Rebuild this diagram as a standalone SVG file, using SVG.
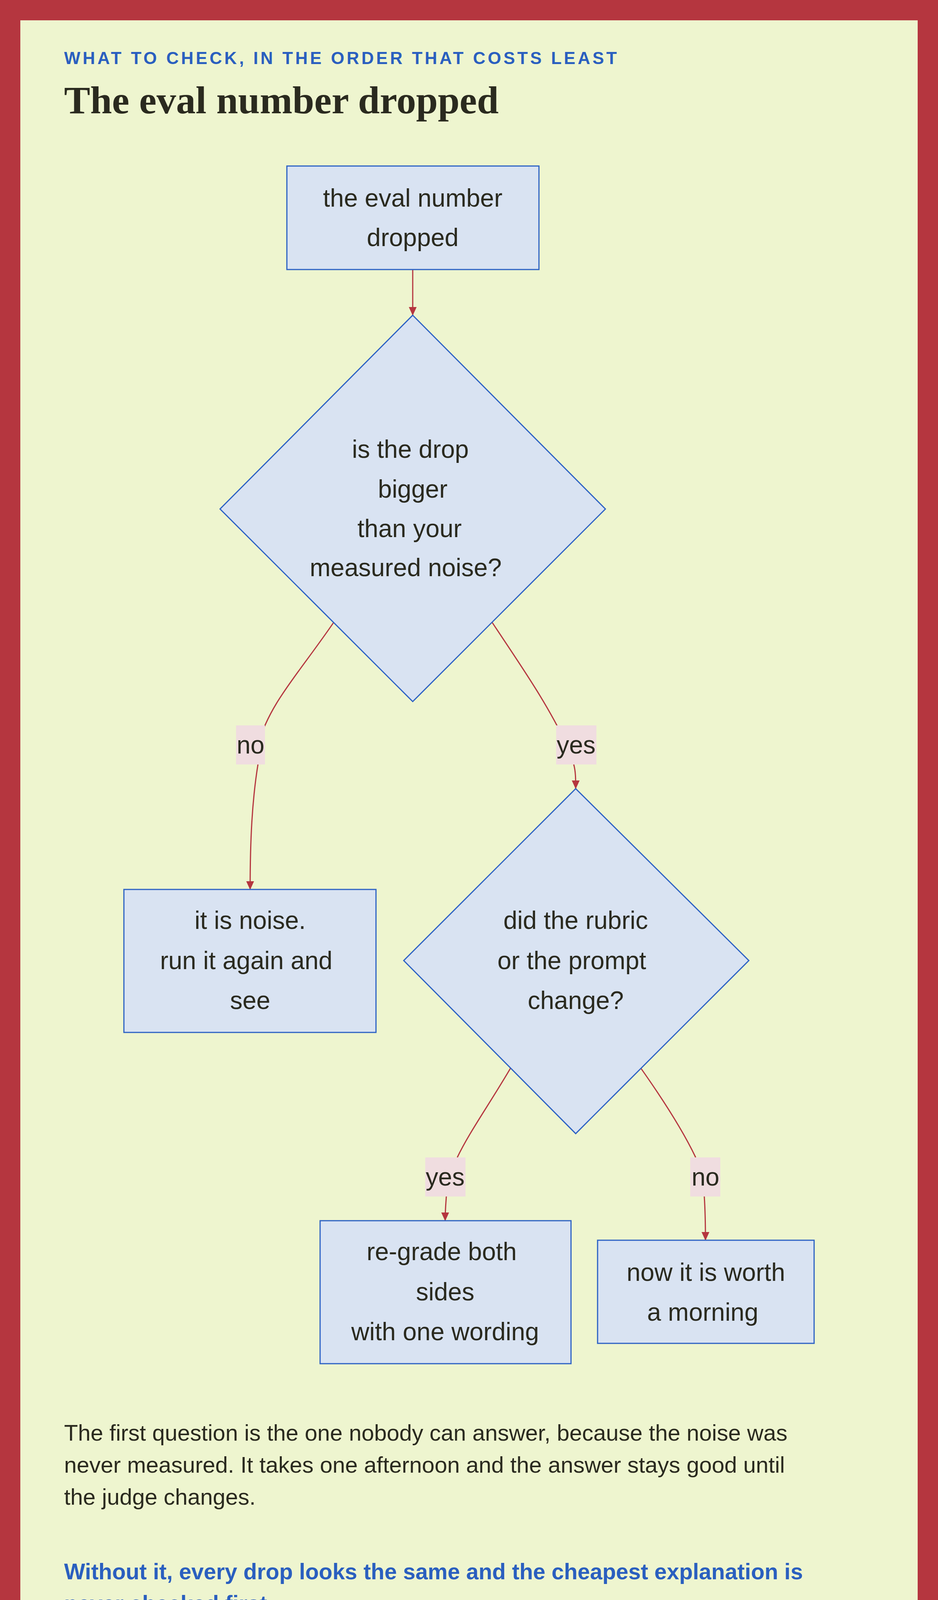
<svg xmlns="http://www.w3.org/2000/svg" width="2400" height="4600" viewBox="0 0 2400 4600">
<defs>
<marker id="ah" markerWidth="22" markerHeight="20" refX="21" refY="10" orient="auto" markerUnits="userSpaceOnUse" viewBox="0 0 22 20">
<path d="M0,0 L22,10 L0,20 z" fill="#b5363f"/>
</marker>
<style>
.n{fill:#d9e3f2;stroke:#2d62c4;stroke-width:3}
.t{font-family:"Liberation Sans",Arial,sans-serif;font-size:64px;fill:#2a2a1f;text-anchor:middle}
.c{fill:none;stroke:#b5363f;stroke-width:3;marker-end:url(#ah)}
.c2{fill:none;stroke:#b5363f;stroke-width:3}
.lb{fill:#f0dde0}
</style>
</defs>
<rect x="0" y="0" width="2400" height="4600" fill="#b5363f"/>
<rect x="52" y="52" width="2296" height="4496" fill="#eef5cf"/>
<text x="164" y="164" font-family="Liberation Sans,Arial,sans-serif" font-weight="bold" font-size="44" letter-spacing="6" fill="#2a5fbf">WHAT TO CHECK, IN THE ORDER THAT COSTS LEAST</text>
<text x="164" y="290" font-family="Liberation Serif,serif" font-weight="bold" font-size="100" fill="#2a2a1f" textLength="1112" lengthAdjust="spacingAndGlyphs">The eval number dropped</text>

<g id="connectors">
<path class="c" d="M1056,690 L1056,807"/>
<path class="c2" d="M854,1593 C760,1730 690,1800 660,1907"/>
<path class="c" d="M660,1957 C645,2050 640,2150 640,2277"/>
<path class="c2" d="M1259,1593 C1330,1700 1400,1800 1450,1907"/>
<path class="c" d="M1468,1957 C1473,1975 1473,1995 1473,2019"/>
<path class="c2" d="M1306,2735 C1250,2830 1200,2900 1170,2963"/>
<path class="c" d="M1142,3063 C1140,3090 1139,3100 1139,3125"/>
<path class="c2" d="M1640,2735 C1700,2820 1750,2900 1780,2963"/>
<path class="c" d="M1802,3063 C1805,3110 1805,3140 1805,3175"/>
<rect class="lb" x="604" y="1857" width="74" height="100"/>
<text class="t" x="641" y="1929">no</text>
<rect class="lb" x="1423" y="1857" width="103" height="100"/>
<text class="t" x="1474" y="1929">yes</text>
<rect class="lb" x="1088" y="2963" width="103" height="100"/>
<text class="t" x="1139" y="3035">yes</text>
<rect class="lb" x="1766" y="2963" width="77" height="100"/>
<text class="t" x="1805" y="3035">no</text>
</g>

<g id="start">
<rect class="n" x="734" y="425" width="645" height="265"/>
<text class="t" x="1056" y="529">the eval number</text>
<text class="t" x="1056" y="630">dropped</text>
</g>
<g id="q1">
<polygon class="n" points="1056,807 1549,1303 1056,1796 563,1303"/>
<text class="t" x="1050" y="1172">is the drop</text>
<text class="t" x="1056" y="1274">bigger</text>
<text class="t" x="1048" y="1375">than your</text>
<text class="t" x="1038" y="1475">measured noise?</text>
</g>
<g id="noise">
<rect class="n" x="317" y="2277" width="645" height="366"/>
<text class="t" x="640" y="2378">it is noise.</text>
<text class="t" x="630" y="2481">run it again and</text>
<text class="t" x="640" y="2583">see</text>
</g>
<g id="q2">
<polygon class="n" points="1473,2019 1916,2459 1473,2902 1033,2459"/>
<text class="t" x="1473" y="2378">did the rubric</text>
<text class="t" x="1463" y="2481">or the prompt</text>
<text class="t" x="1473" y="2583">change?</text>
</g>
<g id="regrade">
<rect class="n" x="819" y="3125" width="642" height="366"/>
<text class="t" x="1130" y="3226">re-grade both</text>
<text class="t" x="1139" y="3329">sides</text>
<text class="t" x="1139" y="3431">with one wording</text>
</g>
<g id="morning">
<rect class="n" x="1529" y="3175" width="554" height="264"/>
<text class="t" x="1806" y="3279">now it is worth</text>
<text class="t" x="1798" y="3381">a morning</text>
</g>

<g font-family="Liberation Sans,Arial,sans-serif" font-size="58" fill="#2a2a1f">
<text x="164" y="3688">The first question is the one nobody can answer, because the noise was</text>
<text x="164" y="3770">never measured. It takes one afternoon and the answer stays good until</text>
<text x="164" y="3852">the judge changes.</text>
</g>
<g font-family="Liberation Sans,Arial,sans-serif" font-size="57" font-weight="bold" fill="#2a5fbf">
<text x="164" y="4043">Without it, every drop looks the same and the cheapest explanation is</text>
<text x="164" y="4125">never checked first.</text>
</g>
<rect x="164" y="4457" width="26" height="26" rx="3" fill="#2a5fbf"/>
<text x="211" y="4485" font-family="Liberation Sans,Arial,sans-serif" font-weight="bold" font-size="44" letter-spacing="8" fill="#2a5fbf">SYSTEMDESIGN.ACADEMY</text>
</svg>
